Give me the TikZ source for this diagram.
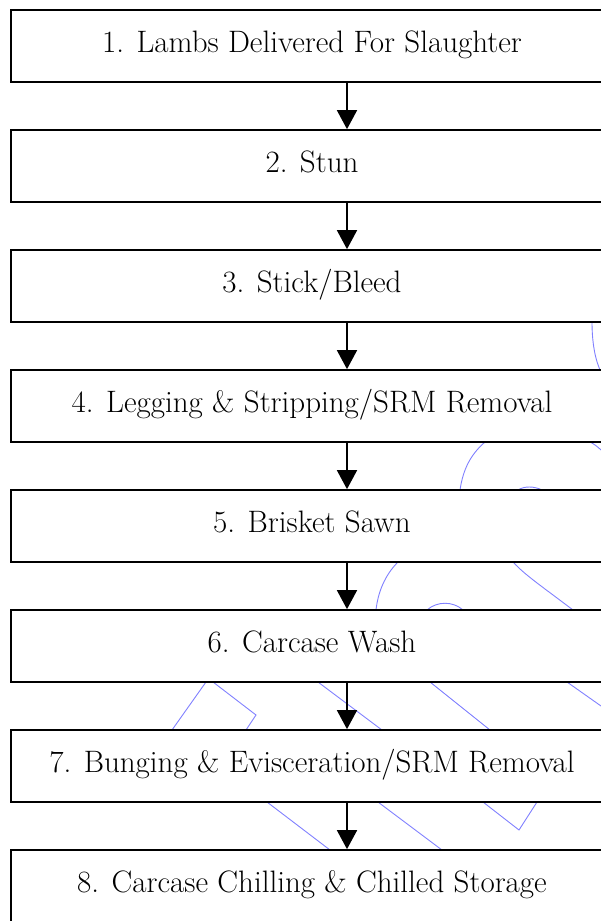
\documentclass[tikz,border=0pt]{standalone}
\usetikzlibrary{arrows.meta,positioning}

\tikzstyle{stage} = [rectangle, draw, line width=1.7pt, fill=white,
minimum width=602pt, minimum height=72pt, inner sep=0pt,
text height=22pt, text depth=10pt, font=\fontsize{31}{36}\selectfont]
\tikzstyle{line} = [draw, line width=1.7pt, -{Triangle[length=19pt,width=20pt]}]
\tikzstyle{watermark} = [draw, blue!50, line width=0.9pt]

\begin{document}
\begin{tikzpicture}[x=1pt, y=-1pt, node distance = 120pt, auto]
	\useasboundingbox (0,0) rectangle (601,921);

	%Watermark
	\path [watermark] (592,322) .. controls (592,342) and (595,360) .. (601,372);
	\path [watermark] (485,442) .. controls (470,455) and (463,470) .. (460,490);
	\path [watermark] (590,442) .. controls (594,444) and (598,447) .. (601,450);
	\path [watermark] (518,490) .. controls (524,486) and (534,486) .. (542,490);
	\path [watermark] (398,562) .. controls (385,575) and (378,592) .. (376,610);
	\path [watermark] (513,562) .. controls (525,575) and (540,585) .. (573,610);
	\path [watermark] (427,610) .. controls (437,601) and (453,601) .. (463,610);
	\path [watermark] (206,682) -- (172,730);
	\path [watermark] (213,682) -- (256,715) -- (246,730);
	\path [watermark] (318,682) -- (382,730);
	\path [watermark] (430,682) -- (490,730);
	\path [watermark] (567,682) -- (601,706);
	\path [watermark] (267,802) -- (330,850);
	\path [watermark] (378,802) -- (442,850);
	\path [watermark] (483,802) -- (519,830) -- (537,802);

	%Nodes
	\node [stage] at (312,46) (s1) {1. Lambs Delivered For Slaughter};
	\node [stage, below of = s1] (s2) {2. Stun};
	\node [stage, below of = s2] (s3) {3. Stick/Bleed};
	\node [stage, below of = s3] (s4) {4. Legging \& Stripping/SRM Removal};
	\node [stage, below of = s4] (s5) {5. Brisket Sawn};
	\node [stage, below of = s5] (s6) {6. Carcase Wash};
	\node [stage, below of = s6] (s7) {7. Bunging \& Evisceration/SRM Removal};
	\node [stage, below of = s7] (s8) {8. Carcase Chilling \& Chilled Storage};

	%Lines
	\path [line] ([xshift=35pt]s1.south) -- ([xshift=35pt]s2.north);
	\path [line] ([xshift=35pt]s2.south) -- ([xshift=35pt]s3.north);
	\path [line] ([xshift=35pt]s3.south) -- ([xshift=35pt]s4.north);
	\path [line] ([xshift=35pt]s4.south) -- ([xshift=35pt]s5.north);
	\path [line] ([xshift=35pt]s5.south) -- ([xshift=35pt]s6.north);
	\path [line] ([xshift=35pt]s6.south) -- ([xshift=35pt]s7.north);
	\path [line] ([xshift=35pt]s7.south) -- ([xshift=35pt]s8.north);

\end{tikzpicture}
\end{document}
